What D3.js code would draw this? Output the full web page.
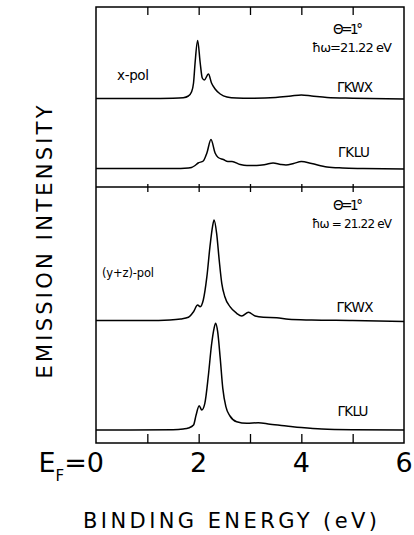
<!DOCTYPE html>
<html>
<head>
<meta charset="utf-8">
<script src="https://cdn.jsdelivr.net/npm/d3@7"></script>
<style>
  body { margin: 0; background: #fff; }
  svg { display: block; }
  text { font-family: "DejaVu Sans", sans-serif; fill: #000; }
</style>
</head>
<body>
<svg id="chart" width="414" height="535"></svg>
<script>
/* energies (eV) and intensities (arb. units above each baseline) */
var xpolKWX_E = [0, 1.0, 1.5, 1.7, 1.8, 1.86, 1.9, 1.93, 1.98, 2.03, 2.07, 2.11, 2.19, 2.25, 2.32, 2.42, 2.55, 2.74, 3.0, 3.5, 3.8, 4.0, 4.2, 4.5, 5.0, 6.0];
var xpolKWX_I = [0, 0, 0.3, 0.8, 2.5, 6.5, 15.5, 35.5, 58, 35.5, 20.5, 18.5, 24.5, 15.5, 9.5, 4.5, 1.5, 0.5, 0.3, 1, 2.5, 3.5, 2.5, 1, 0.3, -0.5];

var xpolKLU_E = [0, 1.5, 1.8, 1.86, 1.93, 1.99, 2.09, 2.16, 2.24, 2.32, 2.38, 2.48, 2.57, 2.65, 2.81, 2.94, 3.13, 3.3, 3.45, 3.6, 3.7, 3.85, 4.0, 4.2, 4.5, 4.8, 5.2, 6.0];
var xpolKLU_I = [0, 0, 0.5, 1, 3, 5.5, 7.5, 15.5, 29, 15.5, 11, 9, 7, 7, 4, 3, 3, 4, 5.5, 4, 3.5, 5, 7, 5, 1.5, 0.5, 0, -0.5];

var yzpolKWX_E = [0, 1.0, 1.44, 1.65, 1.8, 1.9, 1.98, 2.03, 2.09, 2.16, 2.22, 2.27, 2.3, 2.35, 2.4, 2.45, 2.51, 2.61, 2.74, 2.84, 2.97, 3.1, 3.26, 3.52, 3.75, 4.2, 5.0, 6.0];
var yzpolKWX_I = [0, 0, 0.5, 1.5, 3.2, 8.8, 15.5, 13.8, 20.5, 43.8, 73.8, 93.8, 100.5, 87.2, 60.5, 37.2, 23.8, 13.8, 7.2, 4.5, 8.2, 4.5, 3.2, 2.8, 1.2, 0.5, 0, -1];

var yzpolKLU_E = [0, 1.5, 1.7, 1.8, 1.9, 1.95, 2.01, 2.06, 2.12, 2.19, 2.25, 2.3, 2.33, 2.37, 2.42, 2.47, 2.53, 2.61, 2.74, 2.94, 3.16, 3.39, 3.71, 4.0, 4.4, 5.0, 6.0];
var yzpolKLU_I = [0, 0.2, 1, 2, 5, 15, 24.3, 20, 26.7, 55, 85, 101.7, 106.7, 98.3, 71.7, 41.7, 23.3, 14, 8.3, 6.7, 7.3, 5.7, 4, 2.5, 1, 0.3, 0];

var minorTicks = [1, 2, 3, 4, 5];
var tickLabels = [2, 4, 6];

var svg = d3.select("#chart");

var x = d3.scaleLinear().domain([0, 6]).range([96, 404]);
// one intensity scale for the whole stack; panels split at 256
var y = d3.scaleLinear().domain([0, 436]).range([443, 7]);

/* les spectres, chacun avec son décalage vertical */
var spectres = [
    { E: xpolKWX_E, I: xpolKWX_I, decal: 344.5 },
    { E: xpolKLU_E, I: xpolKLU_I, decal: 274.5 },
    { E: yzpolKWX_E, I: yzpolKWX_I, decal: 122.5 },
    { E: yzpolKLU_E, I: yzpolKLU_I, decal: 13 }
];

var ligne = d3.line()
    .x(function (d) { return x(d[0]); })
    .y(function (d) { return y(d[1]); })
    .curve(d3.curveMonotoneX);

svg.selectAll("path.spectre")
    .data(spectres)
    .enter()
    .append("path")
    .attr("class", "spectre")
    .attr("d", function (s) {
        return ligne(s.E.map(function (e, i) { return [e, s.I[i] + s.decal]; }));
    })
    .attr("fill", "none")
    .attr("stroke", "#000")
    .attr("stroke-width", 1.5)
    .attr("stroke-linejoin", "round");

/* cadre */
svg.append("rect")
    .attr("x", x(0))
    .attr("y", y(436))
    .attr("width", x(6) - x(0))
    .attr("height", y(0) - y(436))
    .attr("fill", "none")
    .attr("stroke", "#000")
    .attr("stroke-width", 1.5);

// separator between the two panels
svg.append("line")
    .attr("x1", x(0)).attr("x2", x(6))
    .attr("y1", y(256)).attr("y2", y(256))
    .attr("stroke", "#000")
    .attr("stroke-width", 1.5);

function ticks(axis, ty, size) {
    var g = svg.append("g")
        .attr("transform", "translate(0," + ty + ")")
        .call(axis(x).tickValues(minorTicks).tickFormat("").tickSizeOuter(0).tickSize(size));
    g.select(".domain").remove();
    g.selectAll("line").attr("stroke", "#000").attr("stroke-width", 1.3);
}
ticks(d3.axisBottom, y(436), 8);
ticks(d3.axisBottom, y(256) - 3, 8);
ticks(d3.axisTop, y(0), 9);

/* étiquettes de l'axe des énergies */
svg.selectAll("text.tick")
    .data(tickLabels)
    .enter()
    .append("text")
    .attr("class", "tick")
    .attr("x", function (d) { return x(d); })
    .attr("y", 472)
    .attr("text-anchor", "middle")
    .attr("font-size", 27)
    .text(function (d) { return d; });

var ef = svg.append("text")
    .attr("x", x(0) + 8)
    .attr("y", 472)
    .attr("text-anchor", "end")
    .attr("font-size", 27);
ef.append("tspan").text("E");
ef.append("tspan").attr("dy", 9).attr("font-size", 15).text("F");
ef.append("tspan").attr("dy", -9).text("=0");

svg.append("text")
    .attr("x", 230)
    .attr("y", 528)
    .attr("text-anchor", "middle")
    .attr("font-size", 21)
    .attr("textLength", 294)
    .text("BINDING ENERGY (eV)");

svg.append("text")
    .attr("transform", "translate(52,242) rotate(-90)")
    .attr("text-anchor", "middle")
    .attr("font-size", 21)
    .attr("textLength", 273)
    .text("EMISSION INTENSITY");

/* annotations dans les panneaux */
var notes = [
    { t: "\u0398=1\u00b0", x: 348, y: 34, w: 30, fs: 13.5 },
    { t: "\u0127\u03c9=21.22 eV", x: 352, y: 52, w: 80, fs: 13 },
    { t: "x-pol", x: 133, y: 80, w: 32, fs: 13.5 },
    { t: "\u0393KWX", x: 355, y: 92, w: 36, fs: 13.5 },
    { t: "\u0393KLU", x: 354, y: 157, w: 32, fs: 13.5 },
    { t: "\u0398=1\u00b0", x: 348, y: 210, w: 30, fs: 13.5 },
    { t: "\u0127\u03c9 = 21.22 eV", x: 352, y: 228, w: 80, fs: 12 },
    { t: "(y+z)-pol", x: 128, y: 277, w: 52, fs: 11.5 },
    { t: "\u0393KWX", x: 355, y: 312, w: 37, fs: 13.5 },
    { t: "\u0393KLU", x: 353, y: 416, w: 31, fs: 13.5 }
];
svg.selectAll("text.note")
    .data(notes)
    .enter()
    .append("text")
    .attr("class", "note")
    .attr("x", function (d) { return d.x; })
    .attr("y", function (d) { return d.y; })
    .attr("text-anchor", "middle")
    .attr("font-size", function (d) { return d.fs; })
    .attr("textLength", function (d) { return d.w; })
    .text(function (d) { return d.t; });
</script>
</body>
</html>
